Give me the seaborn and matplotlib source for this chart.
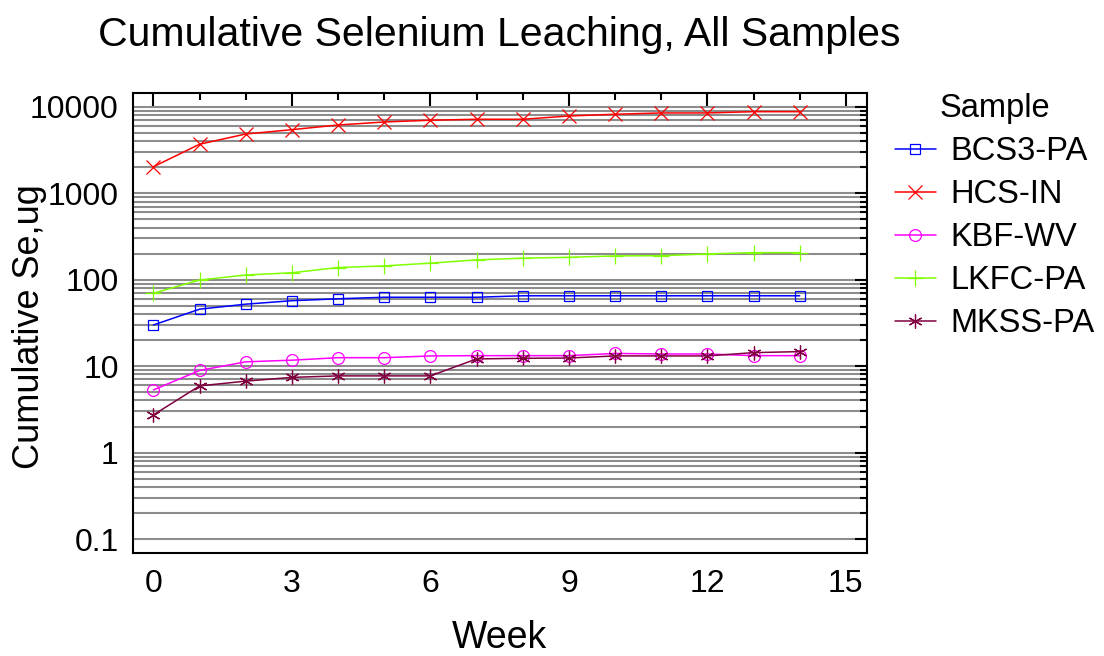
import numpy as np
import pandas as pd
import matplotlib
matplotlib.use('Agg')
import matplotlib.pyplot as plt
from matplotlib.ticker import FixedLocator, MultipleLocator, FuncFormatter
import seaborn as sns

# Weekly cumulative selenium (ug)
weeks = list(range(15))
samples = ['BCS3-PA', 'HCS-IN', 'KBF-WV', 'LKFC-PA', 'MKSS-PA']
bcs3_pa = [29.9, 45.5, 52, 57, 60, 62.5, 62.5, 62.5, 65, 65, 65, 65, 65, 65, 65]
hcs_in = [2020, 3680, 4830, 5420, 6140, 6650, 6970, 7150, 7150, 7800, 8170, 8460, 8460, 8750, 8750]
kbf_wv = [5.3, 8.9, 11.2, 11.7, 12.5, 12.5, 13.1, 13.2, 13.2, 13.2, 14.0, 13.8, 13.8, 13.2, 13.2]
lkfc_pa = [69.6, 99, 113, 120, 138, 144, 155, 169, 177, 181, 188, 189, 198, 205, 205]
mkss_pa = [2.73, 5.9, 6.7, 7.4, 7.7, 7.7, 7.7, 12.1, 12.3, 12.4, 13.1, 13.1, 13.1, 14.3, 14.7]

colors = {'BCS3-PA': '#0000ff', 'HCS-IN': '#ff0000', 'KBF-WV': '#ff00ff',
          'LKFC-PA': '#80ff00', 'MKSS-PA': '#800040'}
markers = {'BCS3-PA': 's', 'HCS-IN': 'x', 'KBF-WV': 'o',
           'LKFC-PA': '+', 'MKSS-PA': (6, 2, 0)}
msizes = {'BCS3-PA': 7, 'HCS-IN': 10, 'KBF-WV': 8.5, 'LKFC-PA': 11, 'MKSS-PA': 10}

df = pd.DataFrame({
    'Week': weeks * 5,
    'Se': bcs3_pa + hcs_in + kbf_wv + lkfc_pa + mkss_pa,
    'Sample': np.repeat(samples, len(weeks)),
})

sns.set_style('white')
plt.rcParams['font.family'] = ['Liberation Sans', 'DejaVu Sans']
plt.rcParams['text.color'] = 'black'
plt.rcParams['axes.labelcolor'] = 'black'

fig = plt.figure(figsize=(11.04, 6.56), dpi=100)
ax = fig.add_axes([0.1202, 0.1575, 0.785 - 0.1202, 0.8578 - 0.1575])

sns.lineplot(data=df, x='Week', y='Se', hue='Sample', hue_order=samples,
             palette=colors, marker='o', legend=False, ax=ax, lw=1.1)

# seaborn won't mix filled and line markers, so set them per line here
for line, name in zip(ax.lines, samples):
    line.set_marker(markers[name])
    line.set_markerfacecolor('none')
    line.set_markeredgecolor(line.get_color())
    line.set_markeredgewidth(0.9)
    line.set_markersize(msizes[name])
    line.set_zorder(3)

ax.set_yscale('log')
ax.set_ylim(0.0695, 14280)
ax.set_xlim(-0.45, 15.45)

# minor grid only from 0.2 up to 9000, like the original
decades = [0.1, 1, 10, 100, 1000, 10000]
minor_y = [d * k for d in decades[:-1] for k in range(2, 10)]
ax.yaxis.set_major_locator(FixedLocator(decades))
ax.yaxis.set_major_formatter(FuncFormatter(lambda v, p: f'{v:g}'))
ax.yaxis.set_minor_locator(FixedLocator(minor_y))
ax.yaxis.set_minor_formatter(FuncFormatter(lambda v, p: ''))
ax.xaxis.set_major_locator(MultipleLocator(3))
ax.xaxis.set_minor_locator(MultipleLocator(1))

ax.grid(True, which='both', axis='y', color='#8c8c8c', lw=1.5)
ax.set_axisbelow(True)

for s in ax.spines.values():
    s.set_color('black')
    s.set_linewidth(1.5)

ax.tick_params(which='major', direction='in', length=9, width=1.5,
               top=True, right=True, labelsize=23, pad=10,
               colors='black', labelcolor='black')
ax.tick_params(which='minor', direction='in', length=5, width=1.5,
               top=True, right=True, colors='black')
ax.tick_params(axis='x', which='major', pad=12)

ax.set_xlabel('Week', fontsize=27, labelpad=15)
ax.set_ylabel('Cumulative Se,ug', fontsize=26, va='center')
ax.yaxis.set_label_coords(-0.14, 0.492)
ax.set_title('Cumulative Selenium Leaching, All Samples', fontsize=29.5, pad=34)

leg = ax.legend(handles=ax.lines[:5], labels=samples, title='Sample',
                loc='upper left', bbox_to_anchor=(895 / 1104, (656 - 93) / 656),
                bbox_transform=fig.transFigure, frameon=False, fontsize=23.5,
                title_fontsize=23.5, borderpad=0, borderaxespad=0,
                handlelength=1.25, handletextpad=0.45, labelspacing=0.37)

fig.savefig('out.png', dpi=100)
